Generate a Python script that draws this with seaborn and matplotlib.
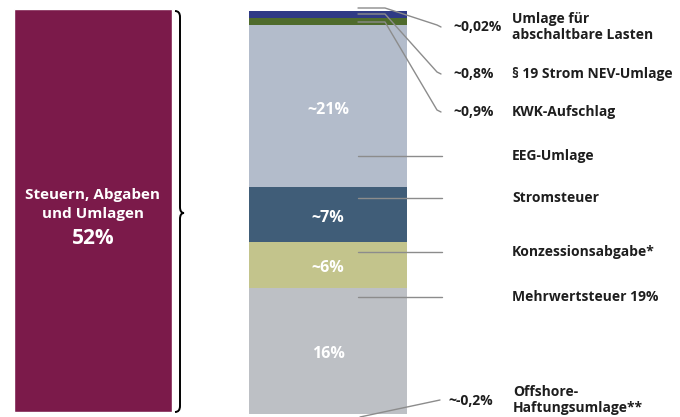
import numpy as np
import matplotlib
matplotlib.use("Agg")
import matplotlib.pyplot as plt
from matplotlib.path import Path
from matplotlib.patches import PathPatch
from matplotlib.transforms import Affine2D
import seaborn as sns

# --- Daten ---
total_label = "Steuern, Abgaben\nund Umlagen"
total_value = 52

components = ["Mehrwertsteuer 19%", "Konzessionsabgabe*", "Stromsteuer", "EEG-Umlage",
              "KWK-Aufschlag", "§ 19 Strom NEV-Umlage", "Umlage für\nabschaltbare Lasten"]
values = [16, 6, 7, 21, 0.9, 0.8, 0.02]
value_labels = ["16%", "~6%", "~7%", "~21%", "~0,9%", "~0,8%", "~0,02%"]
offshore_label = "Offshore-\nHaftungsumlage**"
offshore_value = -0.2
offshore_text = "~-0,2%"

colors = ["#bdc0c5", "#c3c48c", "#405d78", "#b3bccb", "#4f6b2c", "#2f3a85", "#2f3a85"]
maroon = "#7b1a4a"

# --- Stil ---
sns.set_theme(style="white")
plt.rcParams['font.family'] = ['Open Sans', 'DejaVu Sans']

W, H = 680, 417
fig = plt.figure(figsize=(W / 100, H / 100), dpi=100)
ax = fig.add_axes([0, 0, 1, 1])
ax.axis("off")

# Pixel-Transform (Ursprung oben links) für Beschriftungen
px = Affine2D().scale(1 / W, -1 / H).translate(0, 1) + fig.transFigure

# Balken: Gesamt links, gestapelte Bestandteile rechts
bar_w = 0.672
sns.barplot(x=[0], y=[total_value], color=maroon, saturation=1, width=bar_w, ax=ax, native_scale=True)
bottoms = np.concatenate([[0], np.cumsum(values)[:-1]])
ax.bar([1] * len(values), values, bottom=bottoms, width=bar_w, color=colors, linewidth=0)
ax.bar([1], [offshore_value], width=bar_w, color=colors[0], linewidth=0)

unit = 235.0
ax.set_xlim(-93 / unit, -93 / unit + W / unit)
ax.set_ylim(-0.65, 53.2)

# Text im linken Balken
ax.text(0, 26.8, total_label, ha="center", va="center", color="white",
        fontsize=11, fontweight="bold", linespacing=1.4)
ax.text(0, 22.4, f"{total_value}%", ha="center", va="center", color="white",
        fontsize=15, fontweight="bold")

# Werte in den großen Segmenten
for i in range(4):
    ax.text(1, bottoms[i] + values[i] / 2 - 0.45, value_labels[i], ha="center", va="center",
            color="white", fontsize=11.5, fontweight="bold")

# Geschweifte Klammer
verts = [(175, 11), (180, 11), (180, 17), (180, 207), (180, 213), (184, 213),
         (180, 213), (180, 219), (180, 406), (180, 412), (175, 412)]
codes = [Path.MOVETO, Path.CURVE3, Path.CURVE3, Path.LINETO, Path.CURVE3, Path.CURVE3,
         Path.CURVE3, Path.CURVE3, Path.LINETO, Path.CURVE3, Path.CURVE3]
fig.add_artist(PathPatch(Path(verts, codes), transform=px, fill=False, lw=1.4, color="black"))

txt = dict(transform=px, fontsize=10, fontweight="bold", color="#1e1e1e", va="center")
line_kw = dict(transform=px, color="#8c8c8c", lw=1)

# große Segmente: waagerechte Linien
big_label_y = [297, 252, 198, 156]
for i, y in enumerate(big_label_y):
    fig.add_artist(plt.Line2D([358, 442], [y, y], **line_kw))
    fig.text(512, y, components[i], **txt)

# kleine Segmente oben: Knicklinien
small_label_y = [112, 74, 27]
small_start_y = [22, 14, 8]
for k, i in enumerate([4, 5, 6]):
    y0, y1 = small_start_y[k], small_label_y[k]
    fig.add_artist(plt.Line2D([358, 385, 437, 441], [y0, y0, y1 - 2, y1], **line_kw))
    fig.text(453, y1, value_labels[i], **txt)
    fig.text(512, y1, components[i], linespacing=1.15, **txt)

# Offshore unten
fig.add_artist(plt.Line2D([360, 440], [417, 400], **line_kw))
fig.text(448, 401, offshore_text, **txt)
fig.text(513, 400, offshore_label, linespacing=1.15, **txt)

fig.savefig("out.png", dpi=100)
